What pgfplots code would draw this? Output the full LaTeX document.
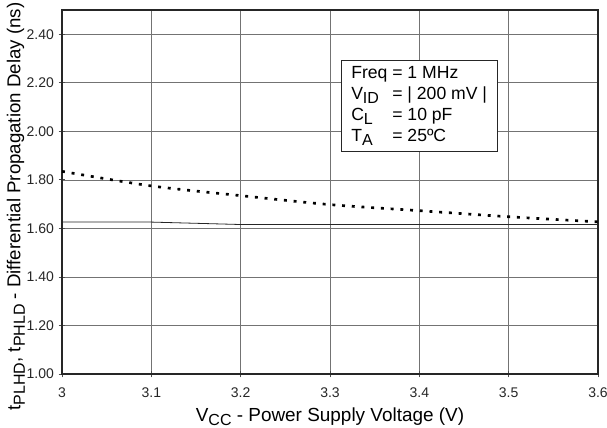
\documentclass[border=0pt]{standalone}
\usepackage{pgfplots}
\pgfplotsset{compat=1.18}
\usepackage{fontspec}
\setmainfont{Liberation Sans}
\newcommand\sub[1]{\raisebox{-0.45ex}{\fontsize{12}{12}\selectfont #1}}
\begin{document}
\begin{tikzpicture}
\begin{axis}[
  scale only axis,
  width=402pt, height=273pt,
  xmin=3, xmax=3.6, ymin=1, ymax=2.5,
  xtick={3,3.1,3.2,3.3,3.4,3.5,3.6},
  ytick={1,1.2,1.4,1.6,1.8,2,2.2,2.4},
  xtick pos=lower, ytick pos=left,
  tick align=center, major tick length=5pt,
  tick style={black!70, line width=0.6pt},
  grid=major,
  grid style={black!55, line width=0.5pt},
  axis line style={black!85, line width=0.8pt},
  /pgf/number format/assume math mode=true,
  ticklabel style={font=\fontsize{10.5}{12}\selectfont, text=black!85},
  yticklabel style={/pgf/number format/.cd, fixed, fixed zerofill, precision=2},
  xticklabel style={yshift=-4pt, /pgf/number format/.cd, fixed, precision=1},
  xlabel={V\sub{CC} - Power Supply Voltage (V)},
  ylabel={t\sub{PLHD}, t\sub{PHLD} - Differential Propagation Delay (ns)},
  xlabel style={font=\fontsize{14.2}{16}\selectfont, yshift=-1pt},
  ylabel style={font=\fontsize{14}{16}\selectfont, at={(axis description cs:-0.086,0.46)}, anchor=center},
]
\addplot[black!85, line width=0.6pt] coordinates {
  (3.0,1.626) (3.1,1.626) (3.2,1.616) (3.3,1.616) (3.4,1.616) (3.5,1.616) (3.6,1.616)
};
\addplot[black, line width=2pt, smooth, dash pattern=on 2.2pt off 5.1pt] coordinates {
  (3.0,1.835) (3.1,1.775) (3.2,1.735) (3.3,1.698) (3.4,1.673) (3.5,1.648) (3.6,1.627)
};
\node[draw=black!85, line width=0.8pt, fill=white, anchor=north west, inner xsep=7.5pt, inner ysep=2.5pt,
      font=\fontsize{13.2}{15.8}\selectfont]
  at (axis cs:3.312,2.295) {%
  \begin{tabular}{@{}l@{\hspace{10pt}}l@{}}
  \multicolumn{2}{@{}l@{}}{Freq = 1 MHz}\\
  V\sub{ID} & = | 200 mV |\\
  C\sub{L} & = 10 pF\\
  T\sub{A} & = 25ºC
  \end{tabular}};
\end{axis}
\pgfresetboundingbox
\path (-46.5pt,-40.5pt) rectangle (408.75pt,280.5pt);
\end{tikzpicture}
\end{document}
